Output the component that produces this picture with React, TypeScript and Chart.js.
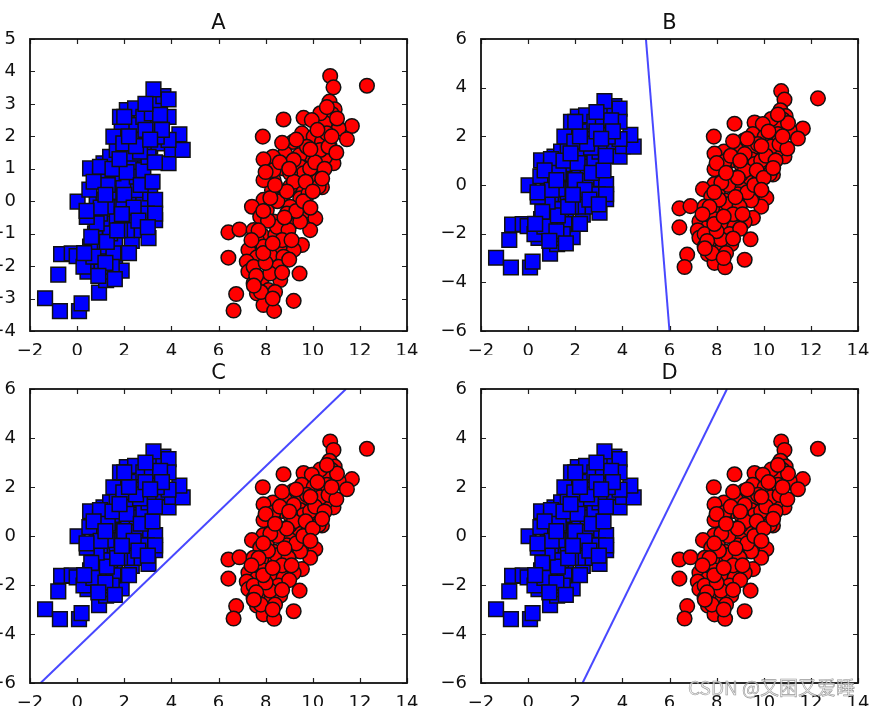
import React, { useEffect, useRef } from "react";
import { Chart, registerables } from "chart.js";

Chart.register(...registerables);

// ---- data ----
const BLUE_X = [
  -1.36, -0.73, 0.08, 0.19, -0.8, -0.68, -0.23, -0.02, 0.48, 0.44,
  0.93, 1.23, 1.61, 1.89, 1.04, 0.76, 1.61, 2.32, 2.74, 3.03,
  3.31, 3.28, 2.79, 2.96, 2.15, 1.19, 0.97, 0.83, 1.12, 0.02,
  0.52, 0.55, 0.97, 1.12, 1.4, 1.75, 2.04, 2.39, 2.32, 2.88,
  3.1, 3.45, 3.88, 4.02, 4.48, 4.34, 3.88, 3.38, 3.31, 2.81,
  2.36, 1.89, 2.11, 2.46, 2.81, 3.17, 3.38, 3.66, 3.88, 3.24,
  3.88, 3.52, 2.67, 1.68, 1.54, 1.4, 1.75, 2.18, 2.53, 1.96,
  2.53, 3.1, 3.31, 2.46, 1.68, 1.4, 0.97, 1.54, 2.11, 0.55,
  0.27, 1.04, 1.47, 2.96, 3.31, 0.69, 1.26, 1.82, 0.83, 2.39,
  1.96, 0.97, 2.81, 3.03, 1.82, 0.41, 1.96, 1.26, 2.67, 1.54,
  1.3, 2.0, 2.4, 1.7, 1.0, 0.7, 1.5, 2.1, 2.7, 3.2,
  2.5, 2.9, 3.3, 2.2, 1.8, 0.6, 1.2, 0.9, 1.6, 2.2,
  2.6, 3.0, 1.9, 1.2, 0.4, 2.9, 3.6, 3.1, 2.0, 0.3,
];
const BLUE_Y = [
  -2.99, -3.39, -3.39, -3.15, -2.26, -1.63, -1.61, -1.69, -1.78, -2.17,
  -2.82, -2.43, -1.92, -2.14, -1.81, -0.99, -1.3, -1.22, -0.89, -1.14,
  -0.58, -0.12, 0.04, 0.57, -0.38, -0.68, -0.38, 0.04, 0.04, -0.01,
  0.36, 1.01, 0.76, 1.17, 1.37, 0.86, 1.27, 1.06, 1.68, 1.24,
  1.68, 1.78, 1.17, 1.6, 1.58, 2.06, 1.89, 1.99, 2.3, 2.14,
  2.35, 2.3, 2.81, 2.86, 2.6, 2.71, 3.07, 3.24, 3.14, 3.45,
  2.6, 2.66, 1.89, 1.58, 1.99, 0.24, -0.17, -0.02, 0.34, 0.55,
  0.76, 0.24, 0.04, -0.48, -0.58, -0.99, -1.4, -1.61, -0.89, -1.4,
  -2.02, -2.17, -2.02, -0.38, -0.38, -1.71, -1.25, -0.89, -0.68, 1.47,
  1.78, 1.06, 0.96, 1.37, 2.6, -0.48, 0.04, -0.17, 1.53, 0.86,
  0.5, 0.2, -0.2, -0.9, -0.2, 0.6, 1.0, 0.9, 0.5, 0.6,
  1.7, 2.2, 1.2, 2.0, 1.3, -1.1, -1.9, -2.3, -2.4, -1.6,
  -0.6, -0.8, -0.4, 0.2, -0.3, 3.0, 2.2, 1.9, 2.6, -1.6,
];
const RED_X = [
  10.74, 10.88, 12.3, 10.71, 10.93, 10.81, 10.53, 10.32, 8.76, 9.61,
  9.96, 11.66, 11.1, 11.45, 7.88, 9.54, 9.16, 10.04, 10.39, 10.71,
  10.88, 10.53, 9.96, 9.44, 8.83, 8.31, 7.91, 8.76, 9.47, 10.04,
  10.25, 10.39, 9.47, 8.83, 8.34, 7.91, 8.27, 8.62, 9.47, 9.82,
  9.04, 7.42, 7.77, 8.34, 9.12, 9.75, 10.11, 9.89, 9.47, 6.42,
  6.89, 7.49, 7.84, 8.41, 8.9, 9.54, 8.62, 9.19, 7.27, 7.63,
  8.19, 8.76, 6.42, 7.2, 8.55, 8.62, 7.27, 7.84, 7.49, 8.12,
  9.44, 6.75, 7.63, 9.19, 7.91, 6.64, 8.36, 9.04, 8.34, 9.19,
  10.32, 9.61, 8.9, 8.05, 8.48, 7.63, 7.91, 7.49, 8.19, 8.97,
  10.6, 11.03, 10.67, 10.25, 9.75, 7.91, 9.04, 9.89,
  8.6, 9.2, 8.5, 9.3, 8.1, 8.7, 9.0, 8.0, 7.6, 8.4,
  7.8, 9.7, 10.1, 9.3, 10.2, 10.6, 9.9, 8.9, 8.2, 7.7,
  7.4, 7.9, 8.3, 8.8, 9.6, 10.0, 10.5, 11.0, 10.8, 9.0,
  8.0, 8.7, 7.5, 8.3, 8.7, 9.1, 9.9, 10.4, 7.9, 8.4,
];
const RED_Y = [
  3.86, 3.51, 3.56, 3.07, 2.83, 2.69, 2.4, 2.71, 2.52, 2.57,
  2.5, 2.32, 2.24, 1.91, 1.99, 2.09, 1.83, 1.99, 1.83, 1.71,
  1.17, 1.37, 1.37, 1.42, 1.47, 1.37, 1.29, 1.01, 1.06, 0.88,
  0.67, 0.43, 0.5, 0.29, 0.65, 0.04, 0.34, 0.04, 0.09, 0.24,
  -0.17, -0.17, -0.48, -0.63, -0.66, -0.29, -0.53, -0.89, -0.63, -0.96,
  -0.87, -0.89, -1.04, -1.04, -1.18, -1.35, -1.4, -1.5, -1.5, -1.73,
  -1.66, -1.71, -1.74, -1.86, -2.02, -2.43, -2.17, -2.38, -2.53, -2.74,
  -2.23, -2.86, -2.84, -3.07, -3.2, -3.37, -3.38, 0.45, 0.96, 1.27,
  1.58, 0.86, -0.38, -0.27, -0.79, -1.2, -1.4, -2.02, -2.23, -0.89,
  2.09, 2.55, 1.68, 0.45, 1.68, 0.65, 0.86, 1.01,
  1.2, 0.6, 0.0, -0.3, -0.6, -1.2, -1.8, -1.9, -2.3, -2.8,
  -2.8, 0.6, 1.2, 1.9, 2.2, 2.9, 1.6, 0.3, 0.1, -0.9,
  -1.2, -1.6, -1.3, -0.5, 0.0, 0.3, 1.0, 1.5, 2.0, 1.0,
  0.9, 1.8, -2.6, -3.0, -2.2, -1.2, -0.2, 0.7, -0.3, 0.5,
];

const PANEL_TITLES = ["A", "B", "C", "D"];
const X_RANGE = [-2, 14];
const X_STEP = 2;
const Y_RANGE_A = [-4, 5];
const Y_STEP_A = 1;
const Y_RANGE = [-6, 6];
const Y_STEP = 2;

const LINE_B_X = [5.0, 6.0];
const LINE_B_Y = [6, -6];
const LINE_C_X = [-1.55, 11.41];
const LINE_C_Y = [-6, 6];
const LINE_D_X = [2.31, 8.44];
const LINE_D_Y = [-6, 6];

const WATERMARK = "CSDN @又困又爱睡";

// ---- drawing helpers ----
const FONT = "'DejaVu Sans', 'Liberation Sans', sans-serif";

const fmt = (v: number | string) => {
  const n = Number(v);
  return n < 0 ? "\u2212" + Math.abs(n) : String(n);
};

const frameTicksPlugin = {
  id: "frameTicks",
  afterDraw(chart: any, _args: any, opts: any) {
    const { ctx, chartArea } = chart;
    const { left, right, top, bottom } = chartArea;
    const xs = chart.scales.x;
    const ys = chart.scales.y;
    const L = 5;
    ctx.save();
    ctx.strokeStyle = "#222";
    ctx.lineWidth = 1.2;
    ctx.beginPath();
    xs.ticks.forEach((t: any) => {
      const px = Math.round(xs.getPixelForValue(t.value)) + 0.5;
      ctx.moveTo(px, bottom);
      ctx.lineTo(px, bottom - L);
      ctx.moveTo(px, top);
      ctx.lineTo(px, top + L);
    });
    ys.ticks.forEach((t: any) => {
      const py = Math.round(ys.getPixelForValue(t.value)) + 0.5;
      ctx.moveTo(left, py);
      ctx.lineTo(left + L, py);
      ctx.moveTo(right, py);
      ctx.lineTo(right - L, py);
    });
    ctx.stroke();
    ctx.lineWidth = 1.8;
    ctx.strokeStyle = "#111";
    ctx.strokeRect(left, top, right - left, bottom - top);
    // panel title
    ctx.fillStyle = "#111";
    ctx.font = `21px ${FONT}`;
    ctx.textAlign = "center";
    ctx.textBaseline = "alphabetic";
    ctx.fillText(opts.text, (left + right) / 2, top - opts.gap);
    ctx.restore();
  },
};

type PanelProps = {
  title: string;
  left: number;
  top: number;
  width: number;
  height: number;
  yWidth: number;
  xHeight: number;
  padRight: number;
  padTop: number;
  yRange: number[];
  yStep: number;
  lineX?: number[];
  lineY?: number[];
};

function Panel(p: PanelProps) {
  const ref = useRef<HTMLCanvasElement | null>(null);
  useEffect(() => {
    if (!ref.current) return;
    const datasets: any[] = [];
    if (p.lineX && p.lineY) {
      datasets.push({
        data: p.lineX.map((x, i) => ({ x, y: p.lineY![i] })),
        showLine: true,
        borderColor: "rgba(40,40,255,0.85)",
        borderWidth: 2,
        pointRadius: 0,
        pointHoverRadius: 0,
        fill: false,
      });
    }
    datasets.push({
      data: BLUE_X.map((x, i) => ({ x, y: BLUE_Y[i] })),
      pointStyle: "rect",
      pointRadius: 10.4,
      pointHoverRadius: 10.4,
      backgroundColor: "#0000ff",
      borderColor: "#111",
      borderWidth: 1.5,
    });
    datasets.push({
      data: RED_X.map((x, i) => ({ x, y: RED_Y[i] })),
      pointStyle: "circle",
      pointRadius: 7.3,
      pointHoverRadius: 7.3,
      backgroundColor: "#ff0000",
      borderColor: "#111",
      borderWidth: 1.5,
    });
    const tickFont = { family: FONT, size: 18 };
    const chart = new Chart(ref.current, {
      type: "scatter",
      data: { datasets },
      plugins: [frameTicksPlugin],
      options: {
        animation: false,
        responsive: false,
        devicePixelRatio: 1,
        events: [],
        layout: { padding: { left: 0, right: p.padRight, top: p.padTop, bottom: 0 } },
        plugins: {
          legend: { display: false },
          tooltip: { enabled: false },
          title: { display: false },
          frameTicks: { text: p.title, gap: 10.5 },
        } as any,
        scales: {
          x: {
            type: "linear",
            min: X_RANGE[0],
            max: X_RANGE[1],
            grid: { display: false },
            border: { display: false },
            ticks: {
              stepSize: X_STEP,
              padding: 2,
              font: tickFont,
              color: "#111",
              maxRotation: 0,
              autoSkip: false,
              callback: (v: any) => fmt(v),
            },
            afterFit: (s: any) => {
              s.height = p.xHeight;
            },
          },
          y: {
            type: "linear",
            min: p.yRange[0],
            max: p.yRange[1],
            grid: { display: false },
            border: { display: false },
            ticks: {
              stepSize: p.yStep,
              padding: 6,
              font: tickFont,
              color: "#111",
              autoSkip: false,
              callback: (v: any) => fmt(v),
            },
            afterFit: (s: any) => {
              s.width = p.yWidth;
            },
          },
        },
      } as any,
    });
    return () => chart.destroy();
  }, []);
  return (
    <canvas
      ref={ref}
      width={p.width}
      height={p.height}
      style={{
        position: "absolute",
        left: p.left,
        top: p.top,
        width: p.width,
        height: p.height,
      }}
    />
  );
}

export default function App() {
  return (
    <div
      style={{
        position: "absolute",
        left: 0,
        top: 0,
        width: 875,
        height: 706,
        background: "#fff",
        overflow: "hidden",
      }}
    >
      <Panel title={PANEL_TITLES[0]} left={0} top={0} width={440} height={355}
        yWidth={30} xHeight={24} padRight={33} padTop={39}
        yRange={Y_RANGE_A} yStep={Y_STEP_A} />
      <Panel title={PANEL_TITLES[1]} left={440} top={0} width={435} height={355}
        yWidth={41} xHeight={24} padRight={17} padTop={39}
        yRange={Y_RANGE} yStep={Y_STEP} lineX={LINE_B_X} lineY={LINE_B_Y} />
      <Panel title={PANEL_TITLES[2]} left={0} top={355} width={440} height={351}
        yWidth={30} xHeight={23} padRight={33} padTop={34}
        yRange={Y_RANGE} yStep={Y_STEP} lineX={LINE_C_X} lineY={LINE_C_Y} />
      <Panel title={PANEL_TITLES[3]} left={440} top={355} width={435} height={351}
        yWidth={41} xHeight={23} padRight={17} padTop={34}
        yRange={Y_RANGE} yStep={Y_STEP} lineX={LINE_D_X} lineY={LINE_D_Y} />
      <div
        style={{
          position: "absolute",
          left: 688,
          top: 675,
          fontFamily: "'Noto Sans CJK SC', 'Noto Sans', sans-serif",
          fontSize: 19,
          lineHeight: "24px",
          whiteSpace: "nowrap",
          color: "rgba(235,235,235,0.75)",
          WebkitTextStroke: "0.6px rgba(110,110,110,0.7)",
        }}
      >
        {WATERMARK}
      </div>
    </div>
  );
}
